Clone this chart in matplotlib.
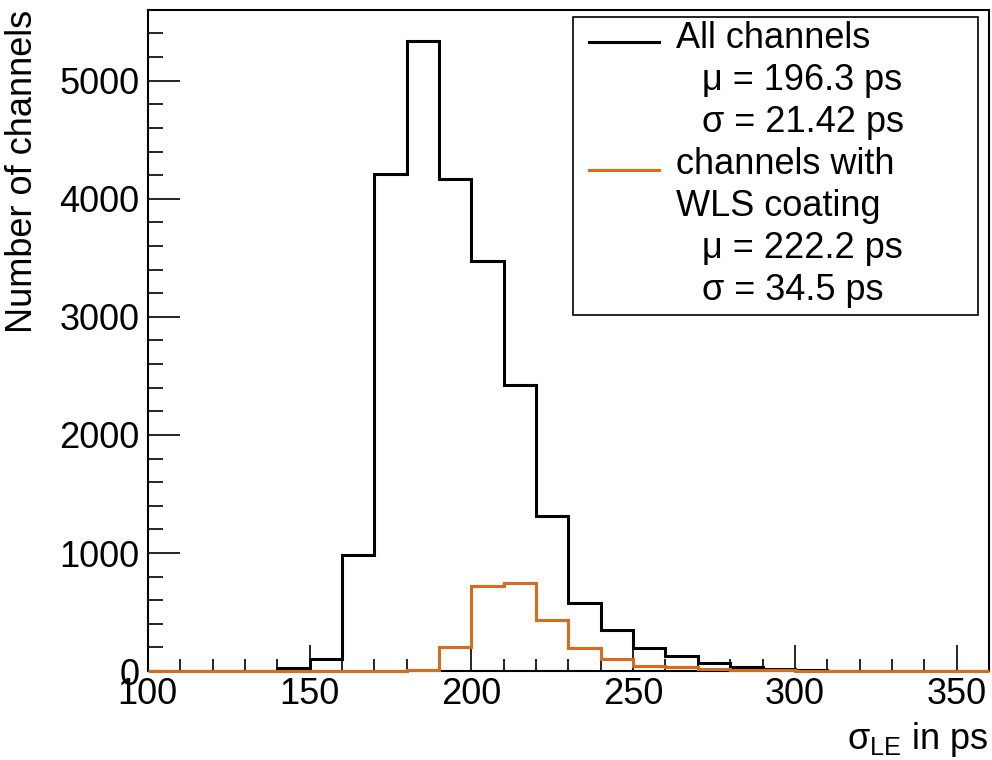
import numpy as np
import matplotlib
matplotlib.use("Agg")
import matplotlib.pyplot as plt
from matplotlib.patches import Rectangle

plt.rcParams['font.family'] = ['Liberation Sans', 'DejaVu Sans']
plt.rcParams['mathtext.fontset'] = 'custom'
plt.rcParams['mathtext.rm'] = 'Liberation Sans'

# histogram bins (ps) and counts
bin_edges = np.arange(100, 361, 10)
all_channels = [0, 0, 0, 0, 25, 100, 983, 4210, 5336, 4170, 3470, 2420, 1310,
                577, 347, 195, 130, 65, 38, 20, 8, 2, 0, 0, 0, 0]
wls_channels = [0, 0, 0, 0, 0, 0, 0, 0, 12, 200, 720, 748, 432,
                192, 102, 42, 31, 14, 10, 5, 3, 0, 0, 0, 0, 0]

legend_rows = [
    ("All channels", 0.628),
    ("\u03bc = 196.3 ps", 0.659),
    ("\u03c3 = 21.42 ps", 0.659),
    ("channels with", 0.628),
    ("WLS coating", 0.628),
    ("\u03bc = 222.2 ps", 0.659),
    ("\u03c3 = 34.5 ps", 0.659),
]

black = 'black'
orange = '#d96c1c'

fig = plt.figure(figsize=(9.92, 7.6), dpi=100)
ax = fig.add_axes([0.149, 0.117, 0.848, 0.870])

ax.stairs(all_channels, bin_edges, color=black, lw=2.2, zorder=3)
ax.stairs(wls_channels, bin_edges, color=orange, lw=2.2, zorder=4, clip_on=False)

ax.set_xlim(100, 360)
ax.set_ylim(0, 5600)
ax.set_xticks([100, 150, 200, 250, 300, 350])
ax.set_xticks(np.arange(100, 361, 10), minor=True)
ax.set_yticks([0, 1000, 2000, 3000, 4000, 5000])
ax.set_yticks(np.arange(0, 5601, 200), minor=True)

ax.tick_params(axis='both', which='both', direction='in', labelsize=26, width=1.2)
ax.tick_params(axis='x', which='major', length=19, pad=4)
ax.tick_params(axis='x', which='minor', length=9)
ax.tick_params(axis='y', which='major', length=23, pad=6)
ax.tick_params(axis='y', which='minor', length=11)
for s in ax.spines.values():
    s.set_linewidth(1.5)

ax.set_xlabel("\u03c3$_{\\mathregular{LE}}$ in ps", fontsize=26, loc='right', labelpad=6)
ax.set_ylabel("Number of channels", fontsize=26, loc='top', labelpad=14)

# legend box drawn by hand, ROOT style
ax.add_patch(Rectangle((0.505, 0.539), 0.482, 0.450, transform=ax.transAxes,
                       fill=True, facecolor='white', edgecolor='black', lw=1.2, zorder=5))
ax.plot([0.524, 0.608], [0.951, 0.951], transform=ax.transAxes, color=black, lw=2.2, zorder=6)
ax.plot([0.524, 0.608], [0.758, 0.758], transform=ax.transAxes, color=orange, lw=2.2, zorder=6)
row_y = np.linspace(0.956, 0.575, len(legend_rows))
for (label, x), y in zip(legend_rows, row_y):
    ax.text(x, y, label, transform=ax.transAxes, fontsize=26, va='center', ha='left', zorder=6)

fig.savefig("out.png", dpi=100)
